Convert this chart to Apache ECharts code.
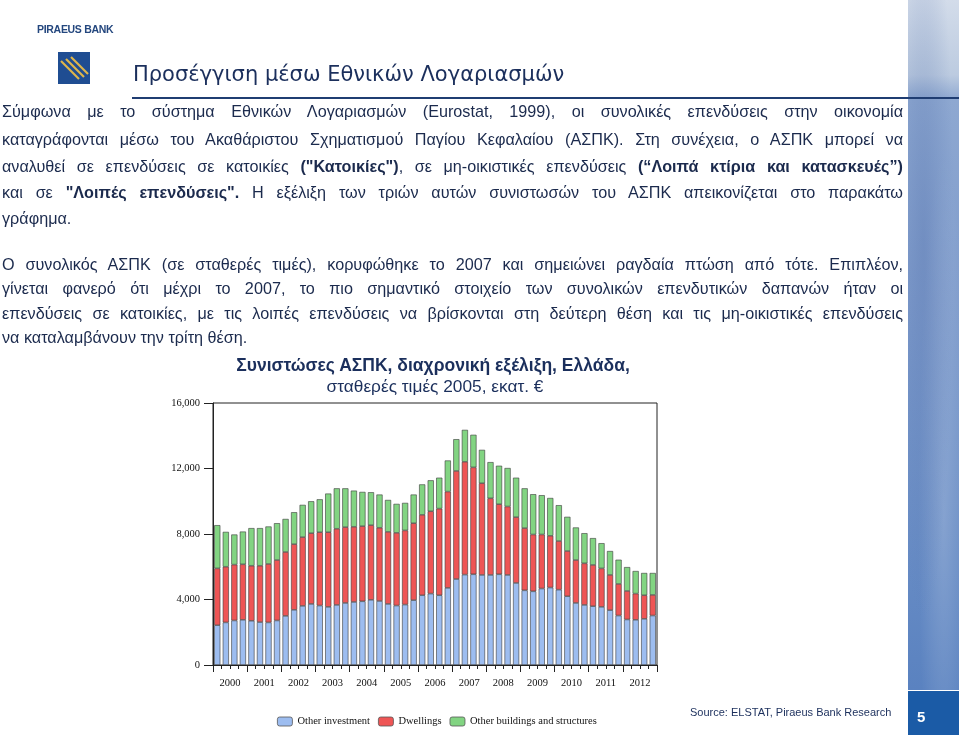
<!DOCTYPE html>
<html><head><meta charset="utf-8">
<script src="https://cdn.jsdelivr.net/npm/echarts@6/dist/echarts.min.js"></script>
<style>
html,body{margin:0;padding:0;background:#fff;}
#page{position:relative;width:959px;height:735px;overflow:hidden;background:#fff;font-family:"Liberation Sans",Arial,sans-serif;color:#1b2a4d;}
#chart{position:absolute;left:0;top:0;width:959px;height:735px;}
.t{position:absolute;white-space:nowrap;pointer-events:none;}
.ln{position:absolute;left:2px;width:901px;font-size:16.2px;line-height:20px;text-align:justify;text-align-last:justify;white-space:nowrap;}
.ln.last{text-align:left;text-align-last:left;}
.ln b{color:#1b2a4d;}
#strip{position:absolute;left:908px;top:0;width:51px;height:690px;
background:linear-gradient(180deg,#d3dcea 0px,#bccbe0 75px,#8ea8d1 100px,#7f9ccc 300px,#6c8fc6 500px,#5a82c0 690px);}
#strip2{position:absolute;left:908px;top:0;width:51px;height:690px;
background:radial-gradient(ellipse at 30% 35%,rgba(80,110,170,0.35),rgba(80,110,170,0) 60%),radial-gradient(ellipse at 70% 75%,rgba(255,255,255,0.18),rgba(255,255,255,0) 50%);}
#band{position:absolute;left:908px;top:691px;width:51px;height:44px;background:#1b5ba6;}
</style></head>
<body><div id="page">
<div id="chart"></div>
<div id="strip"></div><div id="strip2"></div><div id="band"></div>
<div class="t" style="left:917px;top:708px;font-size:15px;font-weight:bold;color:#fff;">5</div>

<div class="t" style="left:37px;top:23px;font-size:10.5px;font-weight:bold;color:#24477e;letter-spacing:-0.3px;">PIRAEUS BANK</div>
<svg class="t" style="left:58px;top:52px;" width="32" height="32" viewBox="0 0 32 32">
<rect x="0" y="0" width="32" height="32" fill="#1f4d92"/>
<g stroke="#e0b64a" stroke-width="2.2" fill="none">
<line x1="3" y1="9" x2="21" y2="27"/><line x1="8" y1="7" x2="26" y2="25"/><line x1="13" y1="5" x2="30" y2="22"/>
</g>
</svg>
<div class="t" style="left:133px;top:62px;font-size:21px;color:#1b2f5c;font-family:'DejaVu Sans',sans-serif;">Προσέγγιση μέσω Εθνικών Λογαριασμών</div>
<div class="t" style="left:132px;top:97px;width:827px;height:2px;background:#1f3d72;"></div>

<div class="ln" style="top:101px;">Σύμφωνα με το σύστημα Εθνικών Λογαριασμών (Eurostat, 1999), οι συνολικές επενδύσεις στην οικονομία</div>
<div class="ln" style="top:129px;">καταγράφονται μέσω του Ακαθάριστου Σχηματισμού Παγίου Κεφαλαίου (ΑΣΠΚ). Στη συνέχεια, ο ΑΣΠΚ μπορεί να</div>
<div class="ln" style="top:156px;">αναλυθεί σε επενδύσεις σε κατοικίες <b>("Κατοικίες")</b>, σε μη-οικιστικές επενδύσεις <b>(“Λοιπά κτίρια και κατασκευές”)</b></div>
<div class="ln" style="top:182px;">και σε <b>"Λοιπές επενδύσεις".</b> Η εξέλιξη των τριών αυτών συνιστωσών του ΑΣΠΚ απεικονίζεται στο παρακάτω</div>
<div class="ln last" style="top:208px;">γράφημα.</div>

<div class="ln" style="top:254px;">Ο συνολικός ΑΣΠΚ (σε σταθερές τιμές), κορυφώθηκε το 2007 και σημειώνει ραγδαία πτώση από τότε. Επιπλέον,</div>
<div class="ln" style="top:278px;">γίνεται φανερό ότι μέχρι το 2007, το πιο σημαντικό στοιχείο των συνολικών επενδυτικών δαπανών ήταν οι</div>
<div class="ln" style="top:303px;">επενδύσεις σε κατοικίες, με τις λοιπές επενδύσεις να βρίσκονται στη δεύτερη θέση και τις μη-οικιστικές επενδύσεις</div>
<div class="ln last" style="top:327px;">να καταλαμβάνουν την τρίτη θέση.</div>

<div class="t" style="left:0;width:866px;top:355px;text-align:center;font-size:17.5px;font-weight:bold;color:#1b2f5c;">Συνιστώσες ΑΣΠΚ, διαχρονική εξέλιξη, Ελλάδα,</div>
<div class="t" style="left:0;width:870px;top:376px;text-align:center;font-size:17.3px;color:#1b2f5c;">σταθερές τιμές 2005, εκατ. €</div>

<div class="t" style="left:690px;top:706px;font-size:11px;color:#1b2f5c;">Source: ELSTAT, Piraeus Bank Research</div>
</div>
<script>
var years = ['2000','2001','2002','2003','2004','2005','2006','2007','2008','2009','2010','2011','2012'];
var quarters = [];
years.forEach(function(y){ ['Q1','Q2','Q3','Q4'].forEach(function(q){ quarters.push(y+q); }); });

var otherInvestment = [2430,2600,2720,2760, 2700,2620,2600,2720, 3000,3370,3610,3730, 3630,3550,3670,3790,
 3850,3890,3980,3910, 3730,3630,3690,3960, 4260,4360,4260,4710, 5250,5520,5540,5500,
 5500,5540,5500,5010, 4560,4500,4670,4730, 4600,4200,3790,3670, 3590,3550,3350,3020, 2780,2760,2820,3020];
var dwellings = [3470,3400,3410,3390, 3360,3440,3570,3690, 3900,4010,4200,4320, 4480,4560,4650,4630,
 4590,4590,4560,4470, 4400,4440,4530,4700, 4910,5030,5290,5880, 6600,6890,6530,5600,
 4680,4280,4180,4020, 3800,3470,3300,3160, 2970,2760,2620,2540, 2520,2350,2150,1930, 1740,1600,1440,1260];
var otherBuildings = [2640,2130,1840,2000, 2300,2300,2290,2250, 2020,1950,1970,1950, 2010,2360,2470,2370,
 2210,2090,2010,2030, 1950,1770,1680,1750, 1860,1890,1890,1900, 1940,1950,1990,2040,
 2210,2350,2350,2410, 2430,2460,2400,2310, 2190,2090,1990,1840, 1640,1540,1460,1480, 1460,1380,1360,1340];
var yTicks = [0,4000,8000,12000,16000];

var chart = echarts.init(document.getElementById('chart'), null, {renderer:'canvas'});
var serif = '"Liberation Serif","Times New Roman",serif';
function bar(name, data, color){
  return {name:name, type:'bar', stack:'t', data:data, xAxisIndex:0, barCategoryGap:'28%',
    itemStyle:{color:color, borderColor:'#3a3a3a', borderWidth:0.6}};
}
chart.setOption({
  animation:false,
  grid:{left:213, top:403, right:302, bottom:70, show:true, borderColor:'#222', borderWidth:1, backgroundColor:'transparent'},
  legend:{left:272, top:711, itemWidth:15, itemHeight:9, itemGap:8,
    textStyle:{fontFamily:serif, fontSize:10.5, color:'#111'},
    data:[{name:'Other investment', itemStyle:{borderColor:'#555',borderWidth:0.8}},
          {name:'Dwellings', itemStyle:{borderColor:'#555',borderWidth:0.8}},
          {name:'Other buildings and structures', itemStyle:{borderColor:'#555',borderWidth:0.8}}]},
  xAxis:[
    {type:'category', data:quarters, position:'bottom',
      axisLine:{lineStyle:{color:'#222'}},
      axisTick:{show:true, interval:0, length:4, lineStyle:{color:'#222'}},
      axisLabel:{show:false}},
    {type:'category', data:years, position:'bottom',
      axisLine:{show:false},
      axisTick:{show:true, interval:0, length:7, lineStyle:{color:'#222'}},
      axisLabel:{fontFamily:serif, fontSize:10.5, color:'#111', margin:13}}
  ],
  yAxis:{type:'value', min:0, max:16000, interval:4000,
    axisLine:{show:true, lineStyle:{color:'#222'}},
    axisTick:{show:true, length:9, lineStyle:{color:'#222'}},
    splitLine:{show:false},
    axisLabel:{fontFamily:serif, fontSize:10.5, color:'#111', margin:13,
      formatter:function(v){ return yTicks.indexOf(v)>=0 ? v.toLocaleString('en-US') : ''; }}},
  series:[
    bar('Other investment', otherInvestment, '#9dbdf0'),
    bar('Dwellings', dwellings, '#ee5555'),
    bar('Other buildings and structures', otherBuildings, '#82d482')
  ]
});
</script>
</body></html>
